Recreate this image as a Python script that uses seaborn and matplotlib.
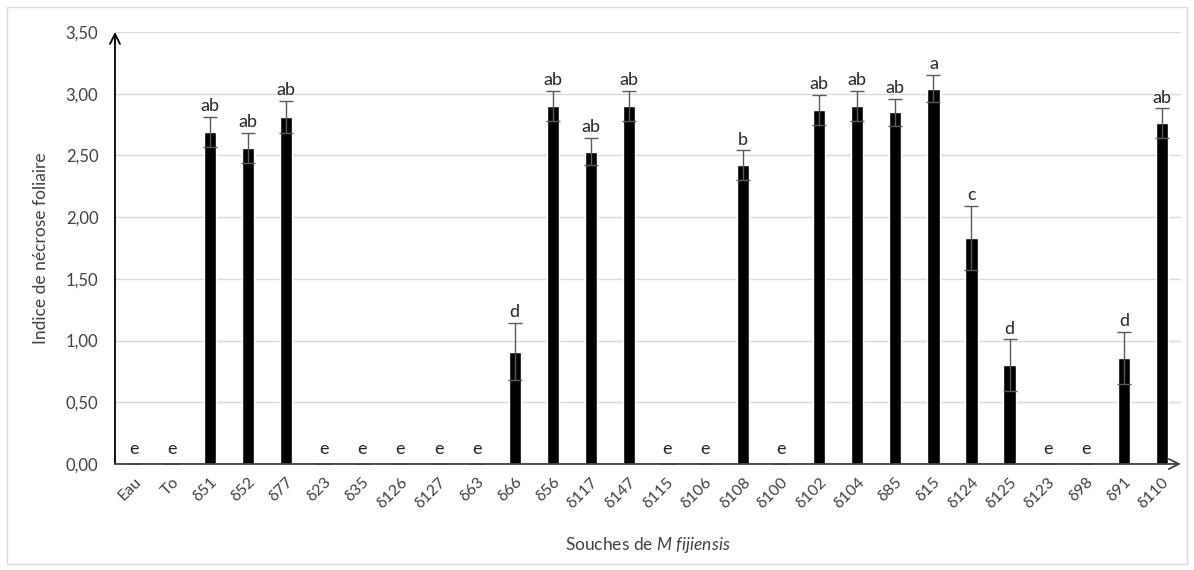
import matplotlib
matplotlib.use("Agg")
import matplotlib.pyplot as plt
import numpy as np
import pandas as pd
import seaborn as sns
from matplotlib.patches import Rectangle
from matplotlib.ticker import FuncFormatter, MultipleLocator

souches = ["Eau", "To", "δ51", "δ52", "δ77", "δ23", "δ35", "δ126", "δ127", "δ63",
           "δ66", "δ56", "δ117", "δ147", "δ115", "δ106", "δ108", "δ100", "δ102",
           "δ104", "δ85", "δ15", "δ124", "δ125", "δ123", "δ98", "δ91", "δ110"]
indice = [0, 0, 2.69, 2.56, 2.81, 0, 0, 0, 0, 0,
          0.91, 2.90, 2.53, 2.90, 0, 0, 2.42, 0, 2.87,
          2.90, 2.85, 3.04, 1.83, 0.80, 0, 0, 0.86, 2.76]
erreur = [0, 0, 0.12, 0.12, 0.13, 0, 0, 0, 0, 0,
          0.23, 0.12, 0.11, 0.12, 0, 0, 0.12, 0, 0.12,
          0.12, 0.11, 0.11, 0.26, 0.21, 0, 0, 0.21, 0.12]
lettres = ["e", "e", "ab", "ab", "ab", "e", "e", "e", "e", "e",
           "d", "ab", "ab", "ab", "e", "e", "b", "e", "ab",
           "ab", "ab", "a", "c", "d", "e", "e", "d", "ab"]

sns.set_style("white")
plt.rcParams["font.family"] = ["Lato", "DejaVu Sans"]
plt.rcParams["mathtext.fontset"] = "custom"
plt.rcParams["mathtext.it"] = "Lato:italic"
plt.rcParams["mathtext.rm"] = "Lato"

df = pd.DataFrame({"souche": souches, "indice": indice, "erreur": erreur})

fig = plt.figure(figsize=(11.94, 5.70), dpi=100)
ax = fig.add_axes([0.0963, 0.186, 0.8927, 0.758])

sns.barplot(data=df, x="souche", y="indice", color="black", width=0.32,
            saturation=1, errorbar=None, ax=ax, zorder=3)

pos = np.arange(len(souches))
ax.errorbar(pos, df["indice"], yerr=df["erreur"], fmt="none", ecolor="#595959",
            elinewidth=1, capsize=5, capthick=1, zorder=4)

for x, y, e, lab in zip(pos, indice, erreur, lettres):
    ax.annotate(lab, (x, y + e), xytext=(0, 2 if y > 0 else 5),
                textcoords="offset points", ha="center", va="bottom",
                fontsize=13, color="#262626")

ax.set_ylim(0, 3.5)
ax.set_xlim(-0.5, len(souches) - 0.5)
ax.yaxis.set_major_locator(MultipleLocator(0.5))
ax.yaxis.set_major_formatter(FuncFormatter(lambda v, _: f"{v:.2f}".replace(".", ",")))
ax.grid(axis="y", color="#d9d9d9", linewidth=1, zorder=0)
ax.set_axisbelow(True)
for side in ["top", "right", "left", "bottom"]:
    ax.spines[side].set_visible(False)

ax.annotate("", xy=(0, 1.0), xytext=(0, 0), xycoords="axes fraction",
            arrowprops=dict(arrowstyle="->", lw=1.3, color="black", mutation_scale=18,
                            shrinkA=0, shrinkB=0), zorder=5)
ax.annotate("", xy=(1.0, 0), xytext=(0, 0), xycoords="axes fraction",
            arrowprops=dict(arrowstyle="->", lw=1.3, color="#404040", mutation_scale=18,
                            shrinkA=0, shrinkB=0), zorder=5)

ax.tick_params(axis="y", labelsize=12, labelcolor="#404040", length=0, pad=12)
ax.tick_params(axis="x", labelsize=11.5, labelcolor="#404040", length=0, pad=8)
plt.setp(ax.get_xticklabels(), rotation=45, ha="right", rotation_mode="anchor")

ax.set_xlabel("Souches de $M\\ fijiensis$", fontsize=12.5, color="#404040",
              labelpad=17)
ax.set_ylabel("Indice de nécrose foliaire", fontsize=12.5, color="#404040", labelpad=12)

fig.patches.append(Rectangle((0.006, 0.01), 0.988, 0.978, transform=fig.transFigure,
                             fill=False, edgecolor="#d9d9d9", linewidth=1))

fig.savefig("out.png", dpi=100)
